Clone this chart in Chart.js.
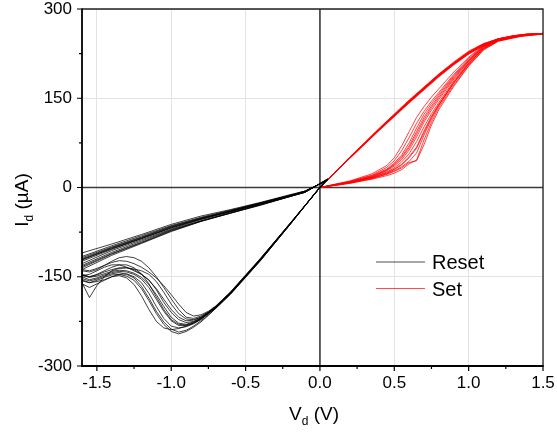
<!DOCTYPE html>
<html>
<head>
<meta charset="utf-8">
<script src="https://cdn.jsdelivr.net/npm/chart.js@4"></script>
<style>
  html, body { margin: 0; padding: 0; background: #fff; }
  #ivChart { display: block; }
</style>
</head>
<body>
<canvas id="ivChart" width="557" height="434"></canvas>
<script>
/* Sweep voltages (V) */
const resetSweepV = [0.05, 0, -0.2, -0.4, -0.6, -0.7, -0.75, -0.8, -0.85, -0.9, -0.95, -1.0, -1.05, -1.1, -1.15, -1.2, -1.25, -1.3, -1.35, -1.4, -1.45, -1.5, -1.55, -1.6];
const resetReturnV = [-1.6, -1.4, -1.2, -1.0, -0.8, -0.6, -0.4, -0.2, -0.1, 0.05];
const setSweepV = [0, 0.2, 0.35, 0.45, 0.5, 0.55, 0.6, 0.65, 0.7, 0.75, 0.8, 0.9, 1.0, 1.1, 1.2, 1.35, 1.5];
const setReturnV = [1.4, 1.3, 1.2, 1.1, 1.0, 0.9, 0.8, 0.6, 0.4, 0.2, 0];

/* Drain current (uA), one row per cycle */
const resetSweepI = [
  [14, 0, -61, -121, -177, -201, -211, -220, -226, -230, -228, -218, -200, -180, -163, -151, -144, -140, -139, -141, -145, -149, -151, -148],
  [13, 0, -60, -119, -175, -199, -208, -214, -216, -210, -196, -180, -165, -152, -142, -134, -128, -124, -123, -126, -131, -136, -140, -138],
  [15, 1, -62, -123, -179, -203, -214, -224, -233, -240, -243, -238, -226, -208, -186, -166, -152, -146, -143, -145, -149, -154, -157, -153],
  [14, 0, -61, -120, -176, -200, -210, -219, -225, -227, -222, -210, -193, -172, -155, -146, -138, -135, -136, -140, -150, -165, -185, -160],
  [13, 0, -61, -122, -178, -202, -212, -222, -229, -234, -236, -233, -220, -200, -178, -160, -150, -145, -146, -150, -155, -158, -160, -155],
  [14, 0, -60, -120, -176, -200, -209, -216, -220, -218, -205, -187, -168, -150, -135, -124, -118, -116, -118, -124, -131, -138, -142, -140],
  [14, 0, -61, -121, -177, -201, -211, -221, -228, -232, -232, -224, -208, -188, -168, -154, -146, -142, -141, -143, -147, -152, -155, -150],
  [15, 1, -62, -122, -178, -202, -212, -221, -228, -233, -237, -239, -236, -225, -205, -182, -163, -152, -148, -150, -156, -162, -168, -162],
  [14, 0, -60, -120, -176, -200, -210, -218, -223, -224, -218, -205, -188, -170, -156, -146, -140, -134, -130, -130, -134, -140, -146, -148],
  [13, 0, -61, -121, -177, -201, -211, -220, -227, -231, -230, -222, -205, -184, -162, -145, -135, -130, -130, -134, -140, -146, -150, -147],
  [14, 0, -62, -123, -179, -203, -215, -226, -235, -242, -246, -242, -230, -212, -190, -170, -156, -149, -146, -147, -151, -156, -160, -157],
  [14, 0, -61, -121, -177, -201, -210, -218, -222, -221, -212, -196, -176, -158, -146, -140, -137, -135, -135, -138, -142, -147, -150, -146]
];
const resetReturnI = [
  [-124, -104, -86, -68, -53, -40, -27, -14, -7, 13],
  [-116, -98, -81, -64, -50, -38, -26, -13, -6, 12],
  [-131, -109, -90, -71, -56, -42, -29, -15, -8, 14],
  [-128, -106, -88, -70, -54, -41, -28, -14, -7, 13],
  [-133, -111, -92, -72, -56, -43, -29, -15, -8, 13],
  [-110, -95, -79, -62, -48, -37, -25, -12, -6, 12],
  [-120, -101, -84, -66, -52, -39, -26, -13, -7, 13],
  [-138, -114, -94, -74, -57, -43, -30, -15, -8, 14],
  [-122, -102, -85, -67, -52, -40, -27, -14, -7, 13],
  [-118, -100, -83, -65, -51, -39, -26, -13, -6, 12],
  [-135, -112, -93, -73, -57, -43, -29, -15, -8, 14],
  [-121, -103, -86, -68, -53, -40, -27, -14, -7, 13]
];
const setSweepI = [
  [0, 9, 18, 28, 36, 47, 63, 85, 110, 130, 148, 182, 212, 236, 248, 255, 259],
  [0, 10, 21, 34, 45, 62, 84, 108, 128, 145, 160, 190, 217, 238, 249, 256, 259],
  [0, 8, 15, 23, 28, 35, 44, 58, 88, 115, 138, 175, 207, 233, 247, 255, 258],
  [0, 7, 14, 20, 24, 30, 40, 46, 80, 110, 135, 172, 205, 232, 246, 254, 258],
  [0, 9, 19, 30, 39, 52, 70, 94, 118, 137, 154, 186, 214, 237, 248, 255, 259],
  [0, 10, 20, 31, 41, 55, 75, 100, 123, 141, 157, 188, 215, 237, 249, 256, 259],
  [0, 8, 17, 26, 33, 43, 57, 77, 102, 124, 143, 179, 210, 235, 248, 255, 259],
  [0, 9, 17, 25, 31, 39, 52, 68, 95, 120, 140, 177, 209, 234, 247, 255, 258],
  [0, 11, 23, 37, 50, 70, 94, 118, 136, 152, 166, 194, 219, 239, 250, 256, 259],
  [0, 9, 18, 29, 38, 50, 67, 90, 114, 134, 151, 184, 213, 236, 248, 255, 259],
  [0, 7, 15, 22, 27, 33, 42, 45, 72, 105, 131, 170, 204, 231, 246, 254, 258],
  [0, 8, 16, 24, 30, 38, 50, 66, 92, 118, 139, 176, 208, 234, 247, 255, 259]
];
const setReturnI = [
  [257, 254, 249, 240, 227, 209, 189, 145, 98, 50, 0],
  [257, 254, 248, 239, 225, 207, 187, 143, 97, 49, 0],
  [258, 255, 250, 241, 228, 210, 190, 146, 99, 50, 0],
  [257, 254, 249, 240, 226, 208, 188, 144, 98, 49, 0],
  [258, 255, 250, 242, 229, 211, 191, 147, 100, 51, 0],
  [257, 253, 248, 238, 224, 206, 186, 142, 96, 49, 0],
  [257, 254, 249, 240, 226, 208, 189, 145, 98, 50, 0],
  [258, 255, 250, 241, 227, 209, 189, 145, 99, 50, 0],
  [258, 255, 249, 240, 227, 209, 190, 146, 99, 50, 0],
  [256, 253, 248, 239, 225, 207, 187, 143, 97, 49, 0],
  [257, 254, 249, 241, 227, 209, 189, 145, 98, 50, 0],
  [257, 254, 249, 240, 226, 208, 188, 144, 98, 50, 0]
];

/* Axis ticks */
const xTicks = [-1.5, -1.0, -0.5, 0, 0.5, 1.0, 1.5];
const xMinor = [-1.25, -0.75, -0.25, 0.25, 0.75, 1.25];
const yTicks = [-300, -150, 0, 150, 300];
const yMinor = [-225, -75, 75, 225];
const legendLabels = ["Reset", "Set"];

const FONT = "'Liberation Sans', Arial, sans-serif";

function toPoints(vs, is) {
  return vs.map((v, k) => ({ x: v, y: is[k] }));
}

const datasets = [];
resetSweepI.forEach((row, k) => {
  datasets.push({
    data: toPoints(resetSweepV, row).concat(toPoints(resetReturnV, resetReturnI[k])),
    borderColor: "#000",
    borderWidth: 0.75,
  });
});
setSweepI.forEach((row, k) => {
  datasets.push({
    data: toPoints(setSweepV, row).concat(toPoints(setReturnV, setReturnI[k])),
    borderColor: "#ff0000",
    borderWidth: 0.75,
  });
});

/* axes frame, zero lines, tick marks, titles and legend */
const decor = {
  id: "decor",
  beforeDatasetsDraw(chart) {
    const { ctx, chartArea: a, scales: { x, y } } = chart;
    const x0 = x.getPixelForValue(0);
    const y0 = y.getPixelForValue(0);
    ctx.save();
    ctx.strokeStyle = "#3a3a3a";
    ctx.lineWidth = 1.6;
    ctx.beginPath();
    ctx.moveTo(x0, a.top);
    ctx.lineTo(x0, a.bottom);
    ctx.moveTo(a.left, y0);
    ctx.lineTo(a.right, y0);
    ctx.stroke();
    ctx.restore();
  },
  afterDraw(chart) {
    const { ctx, chartArea: a, scales: { x, y } } = chart;
    ctx.save();

    // frame
    ctx.strokeStyle = "#222";
    ctx.lineWidth = 1.3;
    ctx.beginPath();
    ctx.moveTo(a.left, a.top);
    ctx.lineTo(a.right, a.top);
    ctx.lineTo(a.right, a.bottom);
    ctx.stroke();
    ctx.strokeStyle = "#000";
    ctx.lineWidth = 1.8;
    ctx.beginPath();
    ctx.moveTo(a.left, a.top - 0.6);
    ctx.lineTo(a.left, a.bottom);
    ctx.lineTo(a.right + 0.6, a.bottom);
    ctx.stroke();

    // tick marks, outward
    ctx.lineWidth = 1.2;
    ctx.beginPath();
    xTicks.forEach((v) => {
      const px = x.getPixelForValue(v);
      ctx.moveTo(px, a.bottom);
      ctx.lineTo(px, a.bottom + 5);
    });
    xMinor.forEach((v) => {
      const px = x.getPixelForValue(v);
      ctx.moveTo(px, a.bottom);
      ctx.lineTo(px, a.bottom + 3);
    });
    yTicks.forEach((v) => {
      const py = y.getPixelForValue(v);
      ctx.moveTo(a.left, py);
      ctx.lineTo(a.left - 5, py);
    });
    yMinor.forEach((v) => {
      const py = y.getPixelForValue(v);
      ctx.moveTo(a.left, py);
      ctx.lineTo(a.left - 3, py);
    });
    ctx.stroke();

    // x title: V_d (V)
    ctx.fillStyle = "#000";
    ctx.textBaseline = "alphabetic";
    ctx.textAlign = "left";
    const big = "19px " + FONT;
    const sub = "12px " + FONT;
    ctx.font = big;
    const wV = ctx.measureText("V").width;
    const wRest = ctx.measureText(" (V)").width;
    ctx.font = sub;
    const wd = ctx.measureText("d").width;
    let tx = 314 - (wV + wd + wRest) / 2;
    const ty = 420;
    ctx.font = big;
    ctx.fillText("V", tx, ty);
    ctx.font = sub;
    ctx.fillText("d", tx + wV, ty + 5);
    ctx.font = big;
    ctx.fillText(" (V)", tx + wV + wd, ty);

    // y title: I_d (µA), rotated
    ctx.save();
    ctx.translate(28, 200);
    ctx.rotate(-Math.PI / 2);
    ctx.font = big;
    const wI = ctx.measureText("I").width;
    const wR = ctx.measureText(" (\u00b5A)").width;
    ctx.font = sub;
    const wd2 = ctx.measureText("d").width;
    tx = -(wI + wd2 + wR) / 2;
    ctx.font = big;
    ctx.fillText("I", tx, 0);
    ctx.font = sub;
    ctx.fillText("d", tx + wI, 5);
    ctx.font = big;
    ctx.fillText(" (\u00b5A)", tx + wI + wd2, 0);
    ctx.restore();

    // legend
    const colors = ["#000", "#ff0000"];
    ctx.font = "20px " + FONT;
    legendLabels.forEach((label, k) => {
      const ly = 262 + k * 26.5;
      ctx.strokeStyle = colors[k];
      ctx.lineWidth = 0.7;
      ctx.beginPath();
      ctx.moveTo(376, ly);
      ctx.lineTo(425, ly);
      ctx.stroke();
      ctx.fillStyle = "#000";
      ctx.fillText(label, 432, ly + 7);
    });

    ctx.restore();
  },
};

new Chart(document.getElementById("ivChart"), {
  type: "scatter",
  data: { datasets },
  options: {
    responsive: false,
    animation: false,
    devicePixelRatio: 1,
    layout: { autoPadding: false, padding: { top: 9, right: 14, left: 0, bottom: 0 } },
    elements: {
      point: { radius: 0 },
      line: { tension: 0 },
    },
    datasets: { scatter: { showLine: true } },
    plugins: {
      legend: { display: false },
      tooltip: { enabled: false },
    },
    scales: {
      x: {
        type: "linear",
        min: -1.6,
        max: 1.5,
        afterBuildTicks: (scale) => {
          scale.ticks = xTicks.map((v) => ({ value: v }));
        },
        afterFit: (scale) => {
          scale.height = 68;
          scale.paddingLeft = 0;
          scale.paddingRight = 0;
        },
        border: { display: false },
        grid: {
          drawTicks: false,
          color: (c) => (c.tick && c.tick.value === 0 ? "rgba(0,0,0,0)" : "#e3e3e3"),
        },
        ticks: {
          font: { family: FONT, size: 17 },
          color: "#000",
          padding: 7,
          maxRotation: 0,
          autoSkip: false,
          callback: (v) => Number(v).toFixed(1),
        },
      },
      y: {
        type: "linear",
        min: -300,
        max: 300,
        afterBuildTicks: (scale) => {
          scale.ticks = yTicks.map((v) => ({ value: v }));
        },
        afterFit: (scale) => {
          scale.width = 82;
          scale.paddingTop = 0;
          scale.paddingBottom = 0;
        },
        border: { display: false },
        grid: {
          drawTicks: false,
          color: (c) => (c.tick && c.tick.value === 0 ? "rgba(0,0,0,0)" : "#e3e3e3"),
        },
        ticks: {
          font: { family: FONT, size: 17 },
          color: "#000",
          padding: 10,
          autoSkip: false,
          callback: (v) => String(v),
        },
      },
    },
  },
  plugins: [decor],
});
</script>
</body>
</html>
